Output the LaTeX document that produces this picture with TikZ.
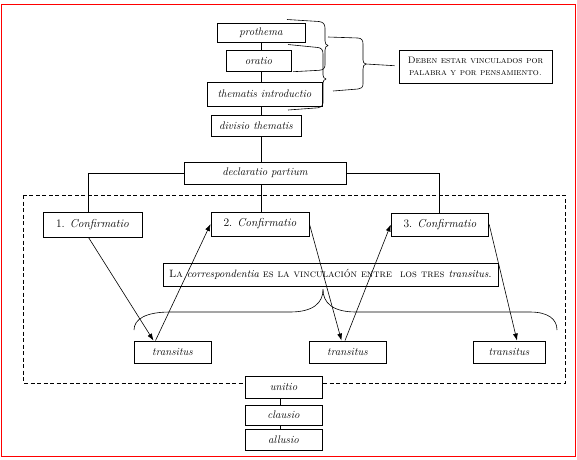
\documentclass[tikz,border=0pt]{standalone}
\usetikzlibrary{arrows.meta}
\newcommand{\ital}[1]{{\ulcshape\itshape #1}}
\begin{document}
\begin{tikzpicture}[x=1pt,y=-1pt,
  boite/.style={draw,fill=white,line width=0.9pt,inner sep=0pt,font=\fontsize{11}{13}\selectfont\itshape},
  fleche/.style={-{Latex[length=7pt,width=5pt]},line width=0.6pt},
  accolade/.style={line width=0.6pt,line join=round}]
  \pgfmathsetmacro{\xtronc}{261}
  \useasboundingbox (0,0) rectangle (577,459);
  \draw[red,line width=1.3pt] (1.5,4.5) rectangle (575.3,456.3);
  \draw[dash pattern=on 4pt off 2.5pt,line width=0.7pt] (23.5,195) rectangle (565,383);
  % haut
  \node[boite,minimum width=88pt,minimum height=19pt] (prothema) at (\xtronc,32.5) {prothema};
  \node[boite,minimum width=65pt,minimum height=21pt] (oratio) at (258.5,60.5) {oratio};
  \node[boite,minimum width=115pt,minimum height=24pt] (thema) at (264.5,94) {thematis introductio};
  \node[boite,minimum width=90pt,minimum height=21pt] (divisio) at (256,125.5) {divisio thematis};
  \node[boite,minimum width=162pt,minimum height=22pt] (declaratio) at (265,173) {declaratio partium};
  \node[boite,font=\fontsize{9.4}{12}\selectfont\scshape,align=center,minimum width=153pt,minimum height=33.5pt] (deben) at (475.5,66.7) {Deben estar vinculados por\\palabra y por pensamiento.};
  % confirmatio
  \node[boite,font=\fontsize{11.5}{13}\selectfont,minimum width=99pt,minimum height=25pt] (c1) at (92.5,224.5) {1. \textit{Confirmatio}};
  \node[boite,font=\fontsize{11.5}{13}\selectfont,minimum width=98pt,minimum height=24pt] (c2) at (260,224) {2. \textit{Confirmatio}};
  \node[boite,font=\fontsize{11.5}{13}\selectfont,minimum width=97.5pt,minimum height=23pt] (c3) at (440,224.5) {3. \textit{Confirmatio}};
  \node[boite,font=\fontsize{10.6}{13}\selectfont\scshape,minimum width=335pt,minimum height=23pt] (corresp) at (330.5,274.5) {La \ital{correspondentia} es la vinculación entre\ \ los tres \ital{transitus}.};
  % transitus
  \node[boite,minimum width=77pt,minimum height=22pt] (t1) at (172.5,352) {transitus};
  \node[boite,minimum width=77pt,minimum height=22pt] (t2) at (347.5,352) {transitus};
  \node[boite,minimum width=72pt,minimum height=22pt] (t3) at (509,352) {transitus};
  % bas
  \node[boite,minimum width=77pt,minimum height=22pt] (unitio) at (283.5,387) {unitio};
  \node[boite,minimum width=77pt,minimum height=20pt] (clausio) at (283.5,415) {clausio};
  \node[boite,minimum width=77pt,minimum height=21pt] (allusio) at (283.5,439.5) {allusio};
  % traits
  \foreach \a/\b in {prothema/oratio,oratio/thema,thema/divisio,divisio/declaratio,declaratio/c2}
    \draw[line width=0.6pt] (\a.south -| prothema.south) -- (\b.north -| prothema.south);
  \draw[line width=0.6pt] (declaratio.west) -| ([xshift=-4pt]c1.north);
  \draw[line width=0.6pt] (declaratio.east) -| ([xshift=-0.7pt]c3.north);
  \foreach \a/\b in {unitio/clausio,clausio/allusio}
    \draw[line width=0.6pt] ([xshift=-3pt]\a.south) -- ([xshift=-3pt]\b.north);
  % fleches
  \draw[fleche] ([xshift=-4pt]c1.south) -- ([xshift=-19pt]t1.north);
  \draw[fleche] ([xshift=-17pt]t1.north) -- (c2.west);
  \draw[fleche] (c2.east) -- ([xshift=-6pt]t2.north);
  \draw[fleche] ([xshift=-2.5pt]t2.north) -- (c3.west);
  \draw[fleche] (c3.east) -- ([xshift=8pt]t3.north);
  % accolades
  \draw[accolade] (287,19.5) -- (319,21.5) .. controls (323,22) and (325,24) .. (325,28) -- (325,41)
    .. controls (325,43.5) and (326,45) .. (328,45.5) .. controls (326,46) and (325,47.5) .. (325,50)
    -- (325,65) .. controls (325,68.5) and (323,70) .. (319,70.3) -- (293,71.7);
  \draw[accolade] (288,44.5) -- (318,47.5) .. controls (321.5,48) and (323,50) .. (323,54) -- (323,75)
    .. controls (323,77) and (324,78.5) .. (326,79) .. controls (324,79.5) and (323,81) .. (323,83)
    -- (323,103) .. controls (323,106) and (321,107.5) .. (318,107.8) -- (288,110);
  \coordinate (pointe) at (366,64);
  \draw[accolade] (328,37) -- (358,38) .. controls (361.5,38.3) and (363,40) .. (363,44) -- (363,60)
    .. controls (363,62.5) and (364,63.5) .. (pointe) .. controls (364,64.5) and (363,66) .. (363,69)
    -- (363,84) .. controls (363,87.5) and (361,88.7) .. (358,89) -- (333,91);
  \draw[accolade] (pointe) -- ([xshift=-4pt,yshift=1pt]deben.west);
  \coordinate (bec) at (323,289.5);
  \draw[accolade] (134,330) .. controls (134,319) and (146,312) .. (170,312) -- (290,312)
    .. controls (313,312) and (323,303) .. (bec);
  \draw[accolade] (bec) .. controls (323,303) and (333,312) .. (356,312) -- (530,312)
    .. controls (548,312) and (557,319) .. (557,330);
\end{tikzpicture}
\end{document}
